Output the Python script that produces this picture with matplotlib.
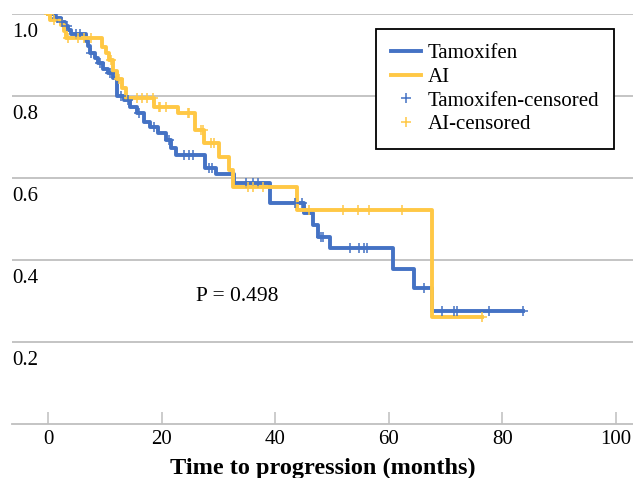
import matplotlib
matplotlib.use('Agg')
import matplotlib.pyplot as plt
import numpy as np
from matplotlib.transforms import ScaledTranslation

plt.rcParams['font.family'] = ['Liberation Serif', 'DejaVu Serif']

# Kaplan-Meier steps (time in months, survival level after the step)
tam_t = [0, 1.3, 2.2, 3.0, 3.6, 4.0, 6.6, 7.0, 7.4, 8.3, 8.8, 9.6, 10.5, 11.4, 12.1, 13.3,
         14.5, 15.7, 16.9, 18.0, 19.3, 20.7, 21.6, 22.5, 27.6, 29.6, 32.7, 39.0, 45.1, 46.7,
         47.6, 49.6, 60.7, 64.4, 67.6, 83.7]
tam_s = [1.0, 0.99, 0.98, 0.97, 0.96, 0.95, 0.935, 0.922, 0.905, 0.893, 0.88, 0.865, 0.855, 0.843, 0.80, 0.79,
         0.773, 0.758, 0.737, 0.724, 0.709, 0.693, 0.673, 0.655, 0.625, 0.61, 0.588, 0.54, 0.515, 0.485,
         0.457, 0.429, 0.378, 0.332, 0.276, 0.276]
tam_cens = [1.6, 2.5, 3.3, 5.0, 5.6, 7.6, 9.2, 10.9, 12.8, 14.0, 16.0, 18.6, 21.3, 24.0, 24.8, 25.5,
            28.3, 28.9, 34.9, 36.1, 37.0, 43.4, 44.8, 48.0, 48.5, 53.1, 54.7, 55.6, 56.1, 66.2,
            69.4, 71.5, 72.0, 77.7, 83.7]

ai_t = [0, 0.4, 2.3, 2.8, 3.2, 9.5, 10.2, 10.8, 11.4, 12.1, 13.0, 13.8, 18.6, 22.8, 25.9, 27.5,
        30.1, 31.9, 32.5, 43.9, 67.6, 76.5]
ai_s = [1.0, 0.985, 0.972, 0.958, 0.94, 0.92, 0.905, 0.888, 0.86, 0.84, 0.82, 0.795, 0.773, 0.758, 0.717, 0.685,
        0.651, 0.62, 0.578, 0.522, 0.261, 0.261]
ai_cens = [0.2, 1.0, 3.6, 5.2, 6.3, 7.6, 11.0, 12.5, 15.7, 16.6, 17.5, 18.4, 19.5, 19.8, 20.7, 24.6,
           24.8, 27.0, 27.3, 28.7, 29.2, 35.2, 36.1, 37.9, 46.0, 52.0, 54.5, 56.5, 62.3, 76.5]

x_ticks = [0, 20, 40, 60, 80, 100]
y_ticks = [0.2, 0.4, 0.6, 0.8, 1.0]
y_labels = ['0.2', '0.4', '0.6', '0.8', '1.0']
p_text = 'P = 0.498'

blue = '#4472C4'
gold = '#FFC845'
grid_col = '#BFBFBF'


def level_at(t, s, c):
    idx = np.searchsorted(t, c, side='right') - 1
    return np.array(s)[idx]


fig = plt.figure(figsize=(6.33, 4.78), dpi=100)
ax = fig.add_axes([0.019, 0.113, 0.981, 0.858])

ax.step(tam_t, tam_s, where='post', color=blue, lw=2.8, label='Tamoxifen', zorder=3)
ax.step(ai_t, ai_s, where='post', color=gold, lw=2.8, label='AI', zorder=3)
ax.plot(tam_cens, level_at(tam_t, tam_s, tam_cens), '+', color=blue, ms=7.5, mew=1.1,
        label='Tamoxifen-censored', zorder=4)
ax.plot(ai_cens, level_at(ai_t, ai_s, ai_cens), '+', color=gold, ms=7.5, mew=1.1,
        label='AI-censored', zorder=4)

ax.text(33.3, 0.31, p_text, fontsize=15.5, ha='center', va='center')

ax.set_xlim(-6.34, 103.0)
ax.set_ylim(0, 1.0)

for side in ['top', 'right', 'left']:
    ax.spines[side].set_visible(False)
ax.spines['bottom'].set_color(grid_col)
ax.spines['bottom'].set_linewidth(1.3)

ax.set_xticks(x_ticks)
ax.tick_params(axis='x', direction='in', length=9, width=1.1, color=grid_col,
               labelsize=15, pad=4)
ax.set_yticks(y_ticks)
ax.set_yticklabels(y_labels)
ax.tick_params(axis='y', length=0, labelsize=15, pad=0)
ax.yaxis.grid(True, color=grid_col, lw=1.3)
ax.set_axisbelow(True)
shift = ScaledTranslation(0, -0.165, fig.dpi_scale_trans)
for tk in ax.yaxis.get_major_ticks():
    tk.label1.set_horizontalalignment('left')
    tk.label1.set_transform(tk.label1.get_transform() + shift)

ax.set_xlabel('Time to progression (months)', fontsize=17.5, fontweight='bold', labelpad=6.5)

leg = ax.legend(loc='upper right', bbox_to_anchor=(0.969, 0.963), fontsize=15,
                frameon=True, fancybox=False, framealpha=1, edgecolor='black',
                handlelength=1.45, handletextpad=0.3, labelspacing=0.2, borderpad=0.7,
                borderaxespad=0)
leg.get_frame().set_linewidth(1.3)

plt.savefig('out.png', dpi=100)
